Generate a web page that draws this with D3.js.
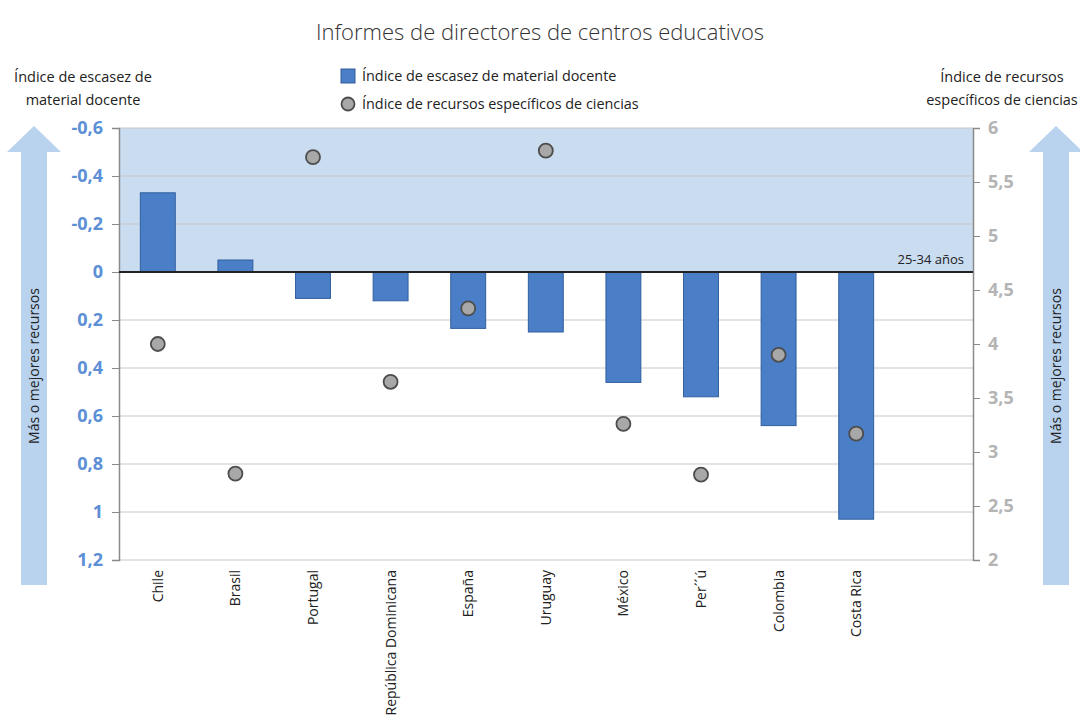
<!DOCTYPE html>
<html>
<head>
<meta charset="utf-8">
<script src="https://cdn.jsdelivr.net/npm/d3@7"></script>
<style>
  body { margin: 0; background: #fff; }
  svg { font-family: "Open Sans", "Noto Sans", sans-serif; }
</style>
</head>
<body>
<div class="chart"></div>
<script>
// data
var countries = ["Chile", "Brasil", "Portugal", "República Dominicana", "España",
  "Uruguay", "México", "Per´´ú", "Colombia", "Costa Rica"];
var escasez = [-0.33, -0.05, 0.11, 0.12, 0.235, 0.25, 0.46, 0.52, 0.64, 1.03];
var recursos = [4.0, 2.8, 5.73, 3.65, 4.33, 5.79, 3.26, 2.79, 3.9, 3.17];
var leftTicks = [-0.6, -0.4, -0.2, 0, 0.2, 0.4, 0.6, 0.8, 1, 1.2];
var rightTicks = [2, 2.5, 3, 3.5, 4, 4.5, 5, 5.5, 6];

var svgWidth = 1080;
var svgHeight = 719;
var plot = { left: 119, right: 973, top: 128, bottom: 560 };

var svg = d3.select(".chart")
  .append("svg")
  .attr("width", svgWidth)
  .attr("height", svgHeight);

// scales
var xScale = d3.scaleBand()
  .domain(countries)
  .range([plot.left, plot.left + 77.6 * countries.length])
  .paddingInner(0.55)
  .paddingOuter(0.275);

var yLeft = d3.scaleLinear().domain([-0.6, 1.2]).range([plot.top, plot.bottom]);
var yRight = d3.scaleLinear().domain([2, 6]).range([plot.bottom, plot.top]);

// title
svg.append("text")
  .attr("x", 540).attr("y", 40)
  .attr("text-anchor", "middle")
  .attr("font-size", 22).attr("font-weight", 300)
  .attr("fill", "#333")
  .text("Informes de directores de centros educativos");

// shaded band above zero
svg.append("rect")
  .attr("x", plot.left).attr("y", yLeft(-0.6))
  .attr("width", plot.right - plot.left)
  .attr("height", yLeft(0) - yLeft(-0.6))
  .attr("fill", "#cadcf0");

// gridlines
svg.append("g").selectAll("line")
  .data(leftTicks)
  .enter().append("line")
  .attr("x1", plot.left).attr("x2", plot.right)
  .attr("y1", d => yLeft(d)).attr("y2", d => yLeft(d))
  .attr("stroke", "#c8c8c8").attr("stroke-width", 1);

// left axis
var leftAxis = d3.axisLeft(yLeft)
  .tickValues(leftTicks)
  .tickSize(7).tickPadding(9)
  .tickFormat(d => String(d).replace(".", ","));
var gLeft = svg.append("g")
  .attr("transform", `translate(${plot.left},0)`)
  .call(leftAxis);
gLeft.select(".domain").attr("stroke", "#8a8a8a").attr("stroke-width", 1.5);
gLeft.selectAll(".tick line").attr("stroke", "#8a8a8a");
gLeft.selectAll(".tick text")
  .attr("font-family", "'Open Sans', sans-serif")
  .attr("font-size", 18).attr("font-weight", 700)
  .attr("fill", "#5b8fd6");

// right axis
var rightAxis = d3.axisRight(yRight)
  .tickValues(rightTicks)
  .tickSize(7).tickPadding(8)
  .tickFormat(d => String(d).replace(".", ","));
var gRight = svg.append("g")
  .attr("transform", `translate(${plot.right},0)`)
  .call(rightAxis);
gRight.select(".domain").attr("stroke", "#8a8a8a").attr("stroke-width", 1.5);
gRight.selectAll(".tick line").attr("stroke", "#8a8a8a");
gRight.selectAll(".tick text")
  .attr("font-family", "'Open Sans', sans-serif")
  .attr("font-size", 18).attr("font-weight", 700)
  .attr("fill", "#b4b4b4");

// bars
svg.append("g").selectAll("rect")
  .data(countries)
  .enter().append("rect")
  .attr("x", d => xScale(d))
  .attr("width", xScale.bandwidth())
  .attr("y", (d, i) => yLeft(Math.min(0, escasez[i])))
  .attr("height", (d, i) => Math.abs(yLeft(escasez[i]) - yLeft(0)))
  .attr("fill", "#4a7ec6")
  .attr("stroke", "#305f9f").attr("stroke-width", 1);

// zero line
svg.append("line")
  .attr("x1", plot.left).attr("x2", plot.right)
  .attr("y1", yLeft(0)).attr("y2", yLeft(0))
  .attr("stroke", "#222").attr("stroke-width", 2);

svg.append("text")
  .attr("x", plot.right - 9).attr("y", yLeft(0) - 8)
  .attr("text-anchor", "end")
  .attr("font-size", 13).attr("fill", "#222")
  .text("25-34 años");

// points
svg.append("g").selectAll("circle")
  .data(countries)
  .enter().append("circle")
  .attr("cx", d => xScale(d) + xScale.bandwidth() / 2)
  .attr("cy", (d, i) => yRight(recursos[i]))
  .attr("r", 7)
  .attr("fill", "#a8a8a8")
  .attr("stroke", "#4d4d4d").attr("stroke-width", 1.8);

// category labels
svg.append("g").selectAll("text")
  .data(countries)
  .enter().append("text")
  .attr("transform", d => `translate(${xScale(d) + xScale.bandwidth() / 2 + 5}, ${plot.bottom + 10}) rotate(-90)`)
  .attr("text-anchor", "end")
  .attr("font-size", 14).attr("fill", "#222")
  .text(d => d);

// axis titles
var leftTitle = svg.append("text")
  .attr("text-anchor", "middle").attr("font-size", 14.5).attr("fill", "#222");
leftTitle.append("tspan").attr("x", 83).attr("y", 82).text("Índice de escasez de");
leftTitle.append("tspan").attr("x", 83).attr("y", 105).text("material docente");

var rightTitle = svg.append("text")
  .attr("text-anchor", "middle").attr("font-size", 14.5).attr("fill", "#222");
rightTitle.append("tspan").attr("x", 1002).attr("y", 82).text("Índice de recursos");
rightTitle.append("tspan").attr("x", 1002).attr("y", 105).text("específicos de ciencias");

// legend
svg.append("rect")
  .attr("x", 341).attr("y", 69).attr("width", 14).attr("height", 14)
  .attr("fill", "#4a7ec6").attr("stroke", "#305f9f");
svg.append("text")
  .attr("x", 362).attr("y", 81)
  .attr("font-size", 14.4).attr("fill", "#222")
  .text("Índice de escasez de material docente");
svg.append("circle")
  .attr("cx", 348).attr("cy", 104).attr("r", 6.5)
  .attr("fill", "#a8a8a8").attr("stroke", "#4d4d4d").attr("stroke-width", 1.8);
svg.append("text")
  .attr("x", 362).attr("y", 109)
  .attr("font-size", 14.4).attr("fill", "#222")
  .text("Índice de recursos específicos de ciencias");

// side arrows
function arrow(cx, top, bottom) {
  var sw = 13, hw = 27, hh = 26;
  var pts = [
    [cx, top], [cx + hw, top + hh], [cx + sw, top + hh], [cx + sw, bottom],
    [cx - sw, bottom], [cx - sw, top + hh], [cx - hw, top + hh]
  ];
  svg.append("polygon")
    .attr("points", pts.map(p => p.join(",")).join(" "))
    .attr("fill", "#b9d2ee");
  svg.append("text")
    .attr("transform", `translate(${cx + 5}, 366) rotate(-90)`)
    .attr("text-anchor", "middle")
    .attr("font-size", 14).attr("fill", "#222")
    .text("Más o mejores recursos");
}
arrow(34, 126, 585);
arrow(1056, 126, 585);
</script>
</body>
</html>
